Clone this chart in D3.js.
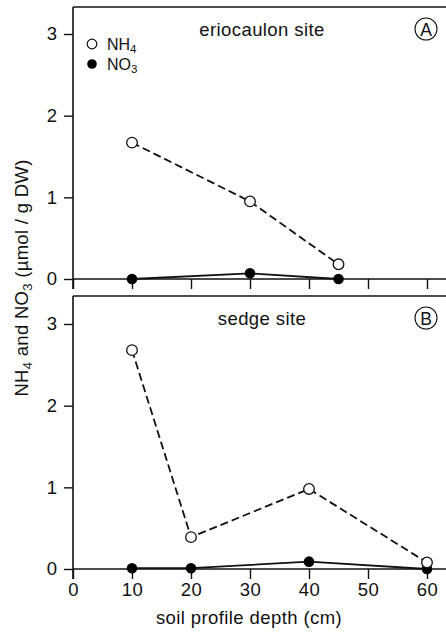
<!DOCTYPE html>
<html><head><meta charset="utf-8">
<script src="https://cdn.jsdelivr.net/npm/d3@7"></script>
<style>
body{margin:0;background:#fff;}
text{font-family:"Liberation Sans",Arial,sans-serif;fill:#111;}
</style></head>
<body><svg id="c" width="446" height="635"></svg>
<script>
const xTicks = [0,10,20,30,40,50,60];
const yTicks = [0,1,2,3];
const depthA = [10,30,45];
const nh4A = [1.67,0.95,0.18];
const no3A = [0.0,0.07,0.0];
const depthB = [10,20,40,60];
const nh4B = [2.68,0.39,0.98,0.08];
const no3B = [0.01,0.01,0.09,0.0];

const svg = d3.select("#c");
const x = d3.scaleLinear().domain([0,60]).range([73,427]);
const FS = 18.5, LS = "0.4px";
const FF = "'Liberation Sans',Arial,sans-serif";

const panels = [
  {top:7, y0:279, y3:34, title:"eriocaulon site", letter:"A", d:depthA, nh4:nh4A, no3:no3A, labels:false, legend:true},
  {top:296, y0:569, y3:324, title:"sedge site", letter:"B", d:depthB, nh4:nh4B, no3:no3B, labels:true, legend:false}
];

panels.forEach(p=>{
  const y = d3.scaleLinear().domain([0,3]).range([p.y0,p.y3]);
  const g = svg.append("g");
  g.append("line").attr("x1",73).attr("x2",446).attr("y1",p.top).attr("y2",p.top).attr("stroke","#111").attr("stroke-width",1.6);
  g.append("line").attr("x1",73).attr("x2",73).attr("y1",p.top).attr("y2",p.y0+10).attr("stroke","#111").attr("stroke-width",1.6);
  g.append("line").attr("x1",73).attr("x2",446).attr("y1",p.y0).attr("y2",p.y0).attr("stroke","#111").attr("stroke-width",1.6);
  const ya = d3.axisLeft(y).tickValues(yTicks).tickSize(9).tickPadding(7).tickFormat(d3.format("d"));
  const yg = g.append("g").attr("transform","translate(73,0)").call(ya);
  yg.select(".domain").remove();
  yg.selectAll("line").attr("stroke","#111").attr("stroke-width",1.4);
  yg.selectAll("text").attr("font-size",FS).attr("font-family",FF).attr("fill","#111");
  const xa = d3.axisBottom(x).tickValues(xTicks).tickSize(10).tickPadding(4).tickFormat(p.labels?d3.format("d"):()=> "");
  const xg = g.append("g").attr("transform",`translate(0,${p.y0})`).call(xa);
  xg.select(".domain").remove();
  xg.selectAll("line").attr("stroke","#111").attr("stroke-width",1.4);
  xg.selectAll("text").attr("font-size",FS).attr("font-family",FF).attr("fill","#111").attr("letter-spacing",LS);

  g.append("text").attr("x",262).attr("y",p.top+29).attr("text-anchor","middle").attr("font-size",FS).attr("letter-spacing",LS).text(p.title);
  g.append("circle").attr("cx",426).attr("cy",p.top+22).attr("r",11).attr("fill","none").attr("stroke","#111").attr("stroke-width",1.1);
  g.append("text").attr("x",426).attr("y",p.top+28.5).attr("text-anchor","middle").attr("font-size",17.5).text(p.letter);

  const line = d3.line().x((d,i)=>x(p.d[i])).y(d=>y(d));
  g.append("path").datum(p.no3).attr("d",line).attr("fill","none").attr("stroke","#111").attr("stroke-width",1.8);
  g.append("path").datum(p.nh4).attr("d",line).attr("fill","none").attr("stroke","#111").attr("stroke-width",1.8).attr("stroke-dasharray","8,4");
  g.selectAll(".f").data(p.no3).enter().append("circle").attr("cx",(d,i)=>x(p.d[i])).attr("cy",d=>y(d)).attr("r",5.3).attr("fill","#000");
  g.selectAll(".o").data(p.nh4).enter().append("circle").attr("cx",(d,i)=>x(p.d[i])).attr("cy",d=>y(d)).attr("r",5.3).attr("fill","#fff").attr("stroke","#111").attr("stroke-width",1.3);

  if(p.legend){
    g.append("circle").attr("cx",92).attr("cy",44).attr("r",4.8).attr("fill","#fff").attr("stroke","#111").attr("stroke-width",1.2);
    const t1 = g.append("text").attr("x",107).attr("y",50).attr("font-size",16);
    t1.append("tspan").text("NH");
    t1.append("tspan").attr("font-size",11.5).attr("dy",3).text("4");
    g.append("circle").attr("cx",92).attr("cy",64).attr("r",4.8).attr("fill","#000");
    const t2 = g.append("text").attr("x",107).attr("y",70).attr("font-size",16);
    t2.append("tspan").text("NO");
    t2.append("tspan").attr("font-size",11.5).attr("dy",3).text("3");
  }
});

svg.append("text").attr("x",249).attr("y",624).attr("text-anchor","middle").attr("font-size",FS).attr("letter-spacing",LS).text("soil profile depth (cm)");
const yt = svg.append("text").attr("transform","translate(28,278) rotate(-90)").attr("text-anchor","middle").attr("font-size",FS).attr("letter-spacing","0.3px");
yt.append("tspan").text("NH");
yt.append("tspan").attr("font-size",13).attr("dy",4).text("4");
yt.append("tspan").attr("dy",-4).text(" and NO");
yt.append("tspan").attr("font-size",13).attr("dy",4).text("3");
yt.append("tspan").attr("dy",-4).text(" (µmol / g DW)");
</script></body></html>
